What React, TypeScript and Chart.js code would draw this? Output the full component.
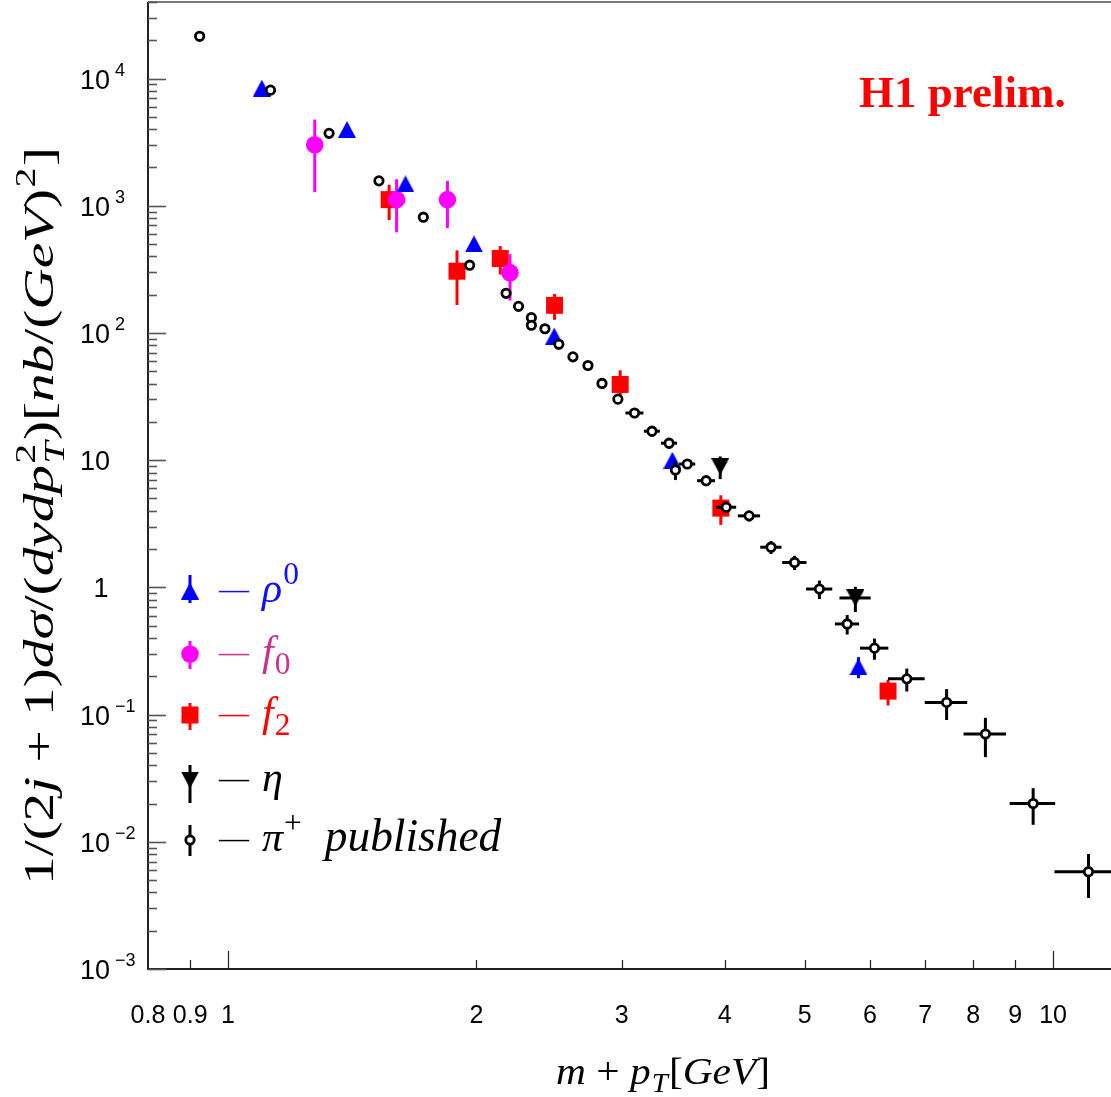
import React, { useEffect, useRef } from "react";
import { Chart, registerables } from "chart.js";

Chart.register(...registerables);

// ---------------- data ----------------
// pi+ published (open circles)
const piX = [0.924, 1.126, 1.326, 1.524, 1.725, 1.963, 2.173, 2.25, 2.332, 2.332, 2.422, 2.518, 2.619, 2.731, 2.84, 2.969,
  3.11, 3.265, 3.425, 3.486, 3.603, 3.798, 4.017, 4.282, 4.552, 4.861, 5.21, 5.63, 6.075, 6.649, 7.43, 8.28, 9.46, 11.04];
const piY = [21500, 8110, 3710, 1570, 813, 341, 205, 162, 132, 115, 108, 81.5, 64.9, 55.5, 40.1, 30.2,
  23.5, 16.9, 13.6, 8.38, 9.33, 6.9, 4.27, 3.65, 2.07, 1.57, 0.971, 0.516, 0.333, 0.191, 0.1247, 0.0703, 0.02, 0.00582];
const piXErr = [0, 0, 0, 0, 0, 0, 0, 0, 0, 0, 0, 0, 0, 0, 0, 0,
  0.078, 0.073, 0.077, 0, 0.081, 0.095, 0.113, 0.133, 0.135, 0.165, 0.19, 0.19, 0.24, 0.34, 0.44, 0.49, 0.6, 1.0];
const piYErr = [0, 0, 0, 0, 0, 0, 0, 0, 0, 0, 0, 0, 0, 0, 0, 0,
  1.8, 1.6, 1.3, 1.4, 0.8, 0.65, 0.4, 0.35, 0.24, 0.2, 0.16, 0.09, 0.063, 0.039, 0.034, 0.024, 0.0064, 0.0022];

// rho0 (blue triangles)
const rhoX = [1.099, 1.394, 1.641, 1.987, 2.486, 3.457, 5.81];
const rhoY = [8410, 3980, 1486, 502, 94.6, 10.0, 0.238];
const rhoYErr = [0, 0, 0, 0, 0, 0, 0.045];

// f0 (magenta circles)
const f0X = [1.274, 1.601, 1.845, 2.197];
const f0Y = [3020, 1118, 1118, 298];
const f0YErr = [1740, 500, 450, 118];

// f2 (red squares)
const f2X = [1.568, 1.895, 2.138, 2.488, 2.988, 3.957, 6.31];
const f2Y = [1118, 306, 385, 165, 39.4, 4.2, 0.153];
const f2YErr = [346, 140, 97, 38, 11.5, 1.1, 0.035];

// eta (black inverted triangles)
const etaX = [3.95, 5.76];
const etaY = [8.9, 0.826];
const etaXErr = [0, 0.25];
const etaYErr = [1.8, 0.185];

// axes
const xTickValues = [0.8, 0.9, 1, 2, 3, 4, 5, 6, 7, 8, 9, 10];
const xTickLabels = ["0.8", "0.9", "1", "2", "3", "4", "5", "6", "7", "8", "9", "10"];
const xMinorTicks = [0.9, 2, 3, 4, 5, 6, 7, 8, 9];
const xMajorTicks = [1, 10];
const yExponents = [-3, -2, -1, 0, 1, 2, 3, 4];
const X_MIN = 0.8, X_MAX = 12.5, Y_MIN = 1e-3, Y_MAX = 4e4;

// ---------------- layout / style ----------------
const W = 1150, H = 1097;
const AREA = { left: 148, top: 2, right: 1133, bottom: 969 };
const SERIF = '"Liberation Serif", "Times New Roman", serif';
const SANS = '"Liberation Sans", Arial, sans-serif';
const F0_TEXT = "#c8328c";

type Piece = { t: string; i?: boolean; k?: "sup" | "sub" | "ss"; b?: string; s?: number; g?: number };

function font(size: number, italic?: boolean, bold?: boolean) {
  return `${italic ? "italic " : ""}${bold ? "bold " : ""}${size}px ${SERIF}`;
}

function richText(ctx: CanvasRenderingContext2D, pieces: Piece[], x: number, y: number, size: number, color: string, draw: boolean, scriptScale = 0.7) {
  let cx = x;
  ctx.fillStyle = color;
  pieces.forEach((p) => {
    if (p.g) cx += p.g;
    const sz = size * (p.s || 1);
    if (!p.k) {
      ctx.font = font(sz, p.i);
      if (draw) ctx.fillText(p.t, cx, y);
      cx += ctx.measureText(p.t).width;
    } else if (p.k === "sup") {
      ctx.font = font(sz * scriptScale, p.i);
      if (draw) ctx.fillText(p.t, cx + 1, y - sz * 0.42);
      cx += ctx.measureText(p.t).width + 2;
    } else if (p.k === "sub") {
      ctx.font = font(sz * scriptScale, p.i);
      if (draw) ctx.fillText(p.t, cx + 1, y + sz * 0.22);
      cx += ctx.measureText(p.t).width + 2;
    } else {
      ctx.font = font(sz * scriptScale, false);
      const w1 = ctx.measureText(p.t).width;
      if (draw) ctx.fillText(p.t, cx + 1, y - sz * 0.42);
      ctx.font = font(sz * scriptScale, true);
      const w2 = ctx.measureText(p.b || "").width;
      if (draw) ctx.fillText(p.b || "", cx + 1, y + sz * 0.25);
      cx += Math.max(w1, w2) + 2;
    }
  });
  return cx - x;
}

function makeTri(color: string, down: boolean) {
  const c = document.createElement("canvas");
  c.width = 18; c.height = 17;
  const g = c.getContext("2d")!;
  g.fillStyle = color;
  g.beginPath();
  if (down) { g.moveTo(0, 0); g.lineTo(18, 0); g.lineTo(9, 17); }
  else { g.moveTo(0, 17); g.lineTo(18, 17); g.lineTo(9, 0); }
  g.closePath();
  g.fill();
  return c;
}

function pts(xs: number[], ys: number[], xe: number[] | null, ye: number[] | null) {
  return xs.map((x, i) => ({ x, y: ys[i], xe: xe ? xe[i] : 0, ye: ye ? ye[i] : 0 }));
}

const errorBarPlugin = {
  id: "errbars",
  beforeDatasetDraw(chart: any, args: any) {
    const ds = chart.data.datasets[args.index];
    const xs = chart.scales.x, ys = chart.scales.y;
    const ctx: CanvasRenderingContext2D = chart.ctx;
    ctx.save();
    ctx.strokeStyle = ds.errColor;
    ctx.lineWidth = 3;
    ctx.lineCap = "butt";
    ds.data.forEach((p: any) => {
      const px = xs.getPixelForValue(p.x), py = ys.getPixelForValue(p.y);
      if (p.ye) {
        const y1 = ys.getPixelForValue(p.y + p.ye);
        const y2 = ys.getPixelForValue(Math.max(p.y - p.ye, 1e-12));
        ctx.beginPath(); ctx.moveTo(px, y1); ctx.lineTo(px, y2); ctx.stroke();
      }
      if (p.xe) {
        const x1 = xs.getPixelForValue(p.x - p.xe);
        const x2 = xs.getPixelForValue(p.x + p.xe);
        ctx.beginPath(); ctx.moveTo(x1, py); ctx.lineTo(x2, py); ctx.stroke();
      }
    });
    ctx.restore();
  },
};

function drawStretched(ctx: CanvasRenderingContext2D, pieces: Piece[], cx: number, cy: number, size: number, targetW: number, rotate: boolean) {
  const w = richText(ctx, pieces, 0, 0, size, "#000", false);
  const k = targetW / w;
  ctx.save();
  ctx.translate(cx, cy);
  if (rotate) ctx.rotate(-Math.PI / 2);
  ctx.scale(k, 1);
  richText(ctx, pieces, -w / 2, 0, size, "#000", true);
  ctx.restore();
}

const decorPlugin = {
  id: "decor",
  afterDraw(chart: any) {
    const ctx: CanvasRenderingContext2D = chart.ctx;
    const xs = chart.scales.x, ys = chart.scales.y;
    const a = chart.chartArea;
    ctx.save();
    // frame
    ctx.strokeStyle = "#777"; ctx.lineWidth = 2;
    ctx.beginPath(); ctx.moveTo(a.left, a.top); ctx.lineTo(a.right, a.top); ctx.stroke();
    ctx.strokeStyle = "#222"; ctx.lineWidth = 2;
    ctx.beginPath(); ctx.moveTo(a.left, a.top); ctx.lineTo(a.left, a.bottom); ctx.lineTo(a.right, a.bottom); ctx.stroke();

    // y ticks
    ctx.strokeStyle = "#555"; ctx.lineWidth = 1.6;
    for (let e = -3; e <= 4; e++) {
      for (let m = 1; m <= 9; m++) {
        const v = m * Math.pow(10, e);
        if (v < Y_MIN || v > Y_MAX) continue;
        const py = Math.round(ys.getPixelForValue(v)) + 0.5;
        const len = m === 1 ? 18 : 9;
        ctx.beginPath(); ctx.moveTo(a.left, py); ctx.lineTo(a.left + len, py); ctx.stroke();
      }
    }
    // x ticks
    ctx.strokeStyle = "#222"; ctx.lineWidth = 1.2;
    xMinorTicks.forEach((v) => {
      const px = Math.round(xs.getPixelForValue(v)) + 0.5;
      ctx.beginPath(); ctx.moveTo(px, a.bottom); ctx.lineTo(px, a.bottom - 9); ctx.stroke();
    });
    xMajorTicks.forEach((v) => {
      const px = Math.round(xs.getPixelForValue(v)) + 0.5;
      ctx.beginPath(); ctx.moveTo(px, a.bottom); ctx.lineTo(px, a.bottom - 18); ctx.stroke();
    });

    // x tick labels
    ctx.fillStyle = "#000";
    ctx.font = `25px ${SANS}`;
    ctx.textAlign = "center";
    ctx.textBaseline = "alphabetic";
    xTickValues.forEach((v, i) => {
      ctx.fillText(xTickLabels[i], xs.getPixelForValue(v), 1023);
    });

    // y tick labels
    ctx.textAlign = "left";
    yExponents.forEach((e) => {
      const ty = ys.getPixelForValue(Math.pow(10, e));
      ctx.font = `27px ${SANS}`;
      if (e === 0) {
        ctx.textAlign = "center";
        ctx.fillText("1", 101, ty + 10);
        ctx.textAlign = "left";
        return;
      }
      ctx.fillText("10", 80, ty + 10);
      const w10 = ctx.measureText("10").width;
      if (e !== 1) {
        ctx.font = `18px ${SANS}`;
        ctx.fillText(e < 0 ? "\u2212" + -e : String(e), 80 + w10 + 5, ty - 3);
      }
    });

    // y axis title
    const yPieces: Piece[] = [
      { t: "1/(2" }, { t: "j", i: true }, { t: " + 1)" }, { t: "d\u03c3", i: true }, { t: "/(" },
      { t: "dydp", i: true }, { t: "2", k: "ss", b: "T" }, { t: ")[" }, { t: "nb", i: true }, { t: "/(" },
      { t: "GeV", i: true }, { t: ")" }, { t: "2", k: "sup" }, { t: "]" },
    ];
    drawStretched(ctx, yPieces, 53, 516, 42, 738, true);

    // x axis title
    const xPieces: Piece[] = [
      { t: "m", i: true }, { t: " + " }, { t: "p", i: true }, { t: "T", i: true, k: "sub" },
      { t: "[" }, { t: "GeV", i: true }, { t: "]" },
    ];
    drawStretched(ctx, xPieces, 663, 1084, 38, 214, false);

    // H1 prelim.
    ctx.fillStyle = "#ff0000";
    ctx.textAlign = "left";
    ctx.font = font(45, false, true);
    ctx.fillText("H1 prelim.", 859, 107);

    // legend
    const rows: { y: number; color: string; text: string; pieces: Piece[]; marker: string; up: number; dn: number }[] = [
      { y: 591, color: "#0000ff", text: "#1010ff", pieces: [{ t: "\u03c1", i: true }, { t: "0", k: "sup" }], marker: "triUp", up: 16, dn: 12 },
      { y: 654, color: "#ff00ff", text: F0_TEXT, pieces: [{ t: "f", i: true }, { t: "0", k: "sub" }], marker: "circle", up: 13, dn: 15 },
      { y: 715, color: "#ff0000", text: "#ff0000", pieces: [{ t: "f", i: true }, { t: "2", k: "sub" }], marker: "rect", up: 12, dn: 15 },
      { y: 780, color: "#000000", text: "#000000", pieces: [{ t: "\u03b7", i: true }], marker: "triDown", up: 15, dn: 23 },
      { y: 840, color: "#000000", text: "#000000", pieces: [{ t: "\u03c0", i: true }, { t: "+", k: "sup" }, { t: "published", i: true, s: 1.08, g: 22 }], marker: "open", up: 15, dn: 16 },
    ];
    const images = (chart as any).$markers;
    rows.forEach((r) => {
      const mx = 190;
      ctx.strokeStyle = r.color; ctx.lineWidth = 3;
      ctx.beginPath(); ctx.moveTo(mx, r.y - r.up); ctx.lineTo(mx, r.y + r.dn); ctx.stroke();
      ctx.fillStyle = r.color;
      if (r.marker === "triUp") ctx.drawImage(images.rhoTri, mx - 9, r.y - 8.5);
      else if (r.marker === "triDown") ctx.drawImage(images.etaTri, mx - 9, r.y - 8.5);
      else if (r.marker === "circle") { ctx.beginPath(); ctx.arc(mx, r.y, 8.8, 0, Math.PI * 2); ctx.fill(); }
      else if (r.marker === "rect") { ctx.fillRect(mx - 8.5, r.y - 8.5, 17, 17); }
      else {
        ctx.fillStyle = "#fff"; ctx.strokeStyle = "#000"; ctx.lineWidth = 2.8;
        ctx.beginPath(); ctx.arc(mx, r.y, 4.2, 0, Math.PI * 2); ctx.fill(); ctx.stroke();
      }
      // dash
      ctx.fillStyle = r.text;
      ctx.font = font(30, false);
      ctx.textAlign = "left";
      ctx.fillText("\u2014", 219, r.y + 8);
      richText(ctx, r.pieces, 262, r.y + 11, 42, r.text, true, 0.75);
    });
    ctx.restore();
  },
};

export default function App() {
  const ref = useRef<HTMLCanvasElement | null>(null);
  useEffect(() => {
    if (!ref.current) return;
    const rhoTri = makeTri("#0000ff", false);
    const etaTri = makeTri("#000000", true);
    const chart = new Chart(ref.current, {
      type: "scatter",
      data: {
        datasets: [
          {
            label: "pi+ published",
            data: pts(piX, piY, piXErr, piYErr),
            pointStyle: "circle", pointRadius: 4.2, borderWidth: 2.8,
            borderColor: "#000", backgroundColor: "#fff",
            errColor: "#000",
          } as any,
          {
            label: "eta",
            data: pts(etaX, etaY, etaXErr, etaYErr),
            pointStyle: etaTri, pointRadius: 9, borderWidth: 0,
            backgroundColor: "#000", borderColor: "#000",
            errColor: "#000",
          } as any,
          {
            label: "rho0",
            data: pts(rhoX, rhoY, null, rhoYErr),
            pointStyle: rhoTri, pointRadius: 9, borderWidth: 0,
            backgroundColor: "#00f", borderColor: "#00f",
            errColor: "#0000ff",
          } as any,
          {
            label: "f0",
            data: pts(f0X, f0Y, null, f0YErr),
            pointStyle: "circle", pointRadius: 8.8, borderWidth: 0,
            backgroundColor: "#ff00ff", borderColor: "#ff00ff",
            errColor: "#ff00ff",
          } as any,
          {
            label: "f2",
            data: pts(f2X, f2Y, null, f2YErr),
            pointStyle: "rect", pointRadius: 12, borderWidth: 0,
            backgroundColor: "#ff0000", borderColor: "#ff0000",
            errColor: "#ff0000",
          } as any,
        ],
      },
      options: {
        responsive: false,
        animation: false,
        devicePixelRatio: 1,
        events: [],
        layout: { autoPadding: false, padding: { left: AREA.left, top: AREA.top, right: W - AREA.right, bottom: H - AREA.bottom } },
        scales: {
          x: { type: "logarithmic", min: X_MIN, max: X_MAX, display: false },
          y: { type: "logarithmic", min: Y_MIN, max: Y_MAX, display: false },
        },
        plugins: { legend: { display: false }, tooltip: { enabled: false } },
      },
      plugins: [
        { id: "markers", beforeInit(c: any) { c.$markers = { rhoTri, etaTri }; } },
        errorBarPlugin,
        decorPlugin,
      ],
    } as any);
    return () => chart.destroy();
  }, []);
  return (
    <div style={{ position: "fixed", left: 0, top: 0, width: 1111, height: 1097, overflow: "hidden", background: "#fff" }}>
      <canvas ref={ref} width={W} height={H} style={{ display: "block", width: W, height: H }} />
    </div>
  );
}
